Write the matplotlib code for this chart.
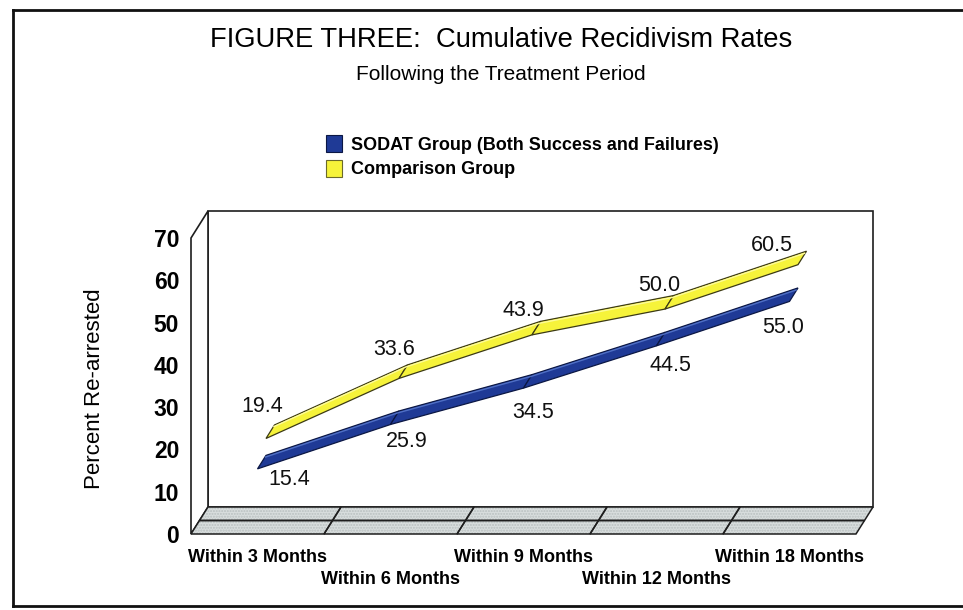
import matplotlib
matplotlib.use("Agg")
import matplotlib.pyplot as plt
from matplotlib.patches import Polygon, Patch
from matplotlib.lines import Line2D
from matplotlib.transforms import blended_transform_factory

# ---------------- data ----------------
categories = ["Within 3 Months", "Within 6 Months", "Within 9 Months",
              "Within 12 Months", "Within 18 Months"]
sodat = [15.4, 25.9, 34.5, 44.5, 55.0]
comparison = [19.4, 33.6, 43.9, 50.0, 60.5]
series_names = ["SODAT Group (Both Success and Failures)", "Comparison Group"]
y_ticks = [0, 10, 20, 30, 40, 50, 60, 70]

title = "FIGURE THREE:  Cumulative Recidivism Rates"
subtitle = "Following the Treatment Period"
y_label = "Percent Re-arrested"

# ---------------- style / layout ----------------
plt.rcParams["font.family"] = ["Liberation Sans", "DejaVu Sans"]
W, H = 963, 610
BLUE, BLUE_EDGE, BLUE_HL = "#1f3a96", "#0b1744", "#4f6fc4"
YEL, YEL_EDGE, YEL_HL = "#f6f33a", "#3c3a14", "#fdfb9a"
FLOOR = "#d9dede"
LINE = "#1e1e1e"

# per-label text offsets (pixels) relative to the ribbon point
yel_off = [(-8, 27), (-9, 24), (-13, 20), (-10, 19), (-30, 14)]
blu_off = [(28, -15), (12, -22), (5, -29), (10, -24), (-11, -31)]
# baseline (pixels from top) of the two staggered category-label rows
row_base = [562.5, 583.5]

fig = plt.figure(figsize=(W / 100, H / 100), dpi=100)
fig.patch.set_facecolor("white")

# front plane of the pseudo-3D chart
ax = fig.add_axes([191 / W, 1 - 534 / H, 665 / W, 296 / H])
ncat = len(categories)
ymax = y_ticks[-1]
ax.set_xlim(0, ncat)
ax.set_ylim(0, ymax)
ax.set_facecolor("none")
for s in ax.spines.values():
    s.set_visible(False)

px_per_cat = 665 / ncat
px_per_unit = 296 / ymax
DX = 17 / px_per_cat          # depth offset in category units
DY = 27 / px_per_unit         # depth offset in value units

# back wall
ax.add_patch(Polygon([(DX, DY), (ncat + DX, DY), (ncat + DX, ymax + DY), (DX, ymax + DY)],
                     closed=True, fc="white", ec=LINE, lw=1.2, clip_on=False, zorder=1))
# side wall
ax.add_patch(Polygon([(0, 0), (DX, DY), (DX, ymax + DY), (0, ymax)],
                     closed=True, fc="white", ec=LINE, lw=1.2, clip_on=False, zorder=1))
# floor cells (one row per series)
for c in range(ncat):
    for r in range(2):
        z0, z1 = r * 0.5, (r + 1) * 0.5
        pts = [(c + z0 * DX, z0 * DY), (c + 1 + z0 * DX, z0 * DY),
               (c + 1 + z1 * DX, z1 * DY), (c + z1 * DX, z1 * DY)]
        ax.add_patch(Polygon(pts, closed=True, fc=FLOOR, ec="#b9c0c0", hatch="......",
                             lw=0, clip_on=False, zorder=2))
        ax.add_patch(Polygon(pts, closed=True, fill=False, ec=LINE, lw=1.1,
                             clip_on=False, zorder=2.1))


def ribbon(vals, z0, z1, fc, ec, hl, z):
    for i in range(len(vals) - 1):
        xa, xb = i + 0.5, i + 1.5
        pts = [(xa + z0 * DX, vals[i] + z0 * DY), (xb + z0 * DX, vals[i + 1] + z0 * DY),
               (xb + z1 * DX, vals[i + 1] + z1 * DY), (xa + z1 * DX, vals[i] + z1 * DY)]
        ax.add_patch(Polygon(pts, closed=True, fc=fc, ec=ec, lw=0.9,
                             joinstyle="miter", clip_on=False, zorder=z))
    zh = z1 - 0.07
    xs = [i + 0.5 + zh * DX for i in range(len(vals))]
    ys = [v + zh * DY for v in vals]
    ax.plot(xs, ys, color=hl, lw=1.0, clip_on=False, zorder=z + 0.05,
            solid_capstyle="butt")


ribbon(comparison, 0.5, 1.0, YEL, YEL_EDGE, YEL_HL, 3)
ribbon(sodat, 0.0, 0.5, BLUE, BLUE_EDGE, BLUE_HL, 4)

# data labels
LBL_FS = 15.5
for i, v in enumerate(comparison):
    dx, dy = yel_off[i]
    ax.annotate(f"{v:.1f}", xy=(i + 0.5 + 0.75 * DX, v + 0.75 * DY),
                xytext=(dx, dy - 7.5), textcoords="offset pixels",
                ha="center", va="baseline", fontsize=LBL_FS, color="#111", zorder=6,
                annotation_clip=False)
for i, v in enumerate(sodat):
    dx, dy = blu_off[i]
    ax.annotate(f"{v:.1f}", xy=(i + 0.5 + 0.25 * DX, v + 0.25 * DY),
                xytext=(dx, dy - 7.5), textcoords="offset pixels",
                ha="center", va="baseline", fontsize=LBL_FS, color="#111", zorder=6,
                annotation_clip=False)

# y axis ticks
ax.set_yticks(y_ticks)
ax.set_yticklabels([str(t) for t in y_ticks], fontweight="bold", fontsize=16.5)
ax.tick_params(axis="y", length=0, pad=8.5)

# staggered category labels under the floor
ax.set_xticks([])
tr = blended_transform_factory(ax.transData, fig.transFigure)
for i, c in enumerate(categories):
    ax.text(i + 0.5, 1 - row_base[i % 2] / H, c, transform=tr, ha="center",
            va="baseline", fontweight="bold", fontsize=13, clip_on=False)

# titles
fig.text(501 / W, 1 - 47 / H, title, ha="center", va="baseline", fontsize=19.7)
fig.text(501 / W, 1 - 80 / H, subtitle, ha="center", va="baseline", fontsize=15)
fig.text(94 / W, 1 - 389 / H, y_label, rotation=90, ha="center", va="center", fontsize=16)

# legend
handles = [Patch(fc=BLUE, ec=BLUE_EDGE, lw=0.8, label=series_names[0]),
           Patch(fc=YEL, ec="#6b6a2a", lw=0.8, label=series_names[1])]
fig.legend(handles=handles, loc="upper left", bbox_to_anchor=(326 / W, 1 - 135 / H),
           frameon=False, prop={"weight": "bold", "size": 13},
           handlelength=0.9, handleheight=1.05, handletextpad=0.5,
           labelspacing=0.35, borderpad=0, borderaxespad=0)

# outer frame
fig.add_artist(Line2D([13 / W, 1.0], [1 - 10 / H, 1 - 10 / H], color="#111", lw=2))
fig.add_artist(Line2D([13 / W, 13 / W], [1 - 10 / H, 1 - 606 / H], color="#111", lw=2))
fig.add_artist(Line2D([13 / W, 1.0], [1 - 606 / H, 1 - 606 / H], color="#111", lw=2))

fig.savefig("out.png", dpi=100, facecolor="white")
